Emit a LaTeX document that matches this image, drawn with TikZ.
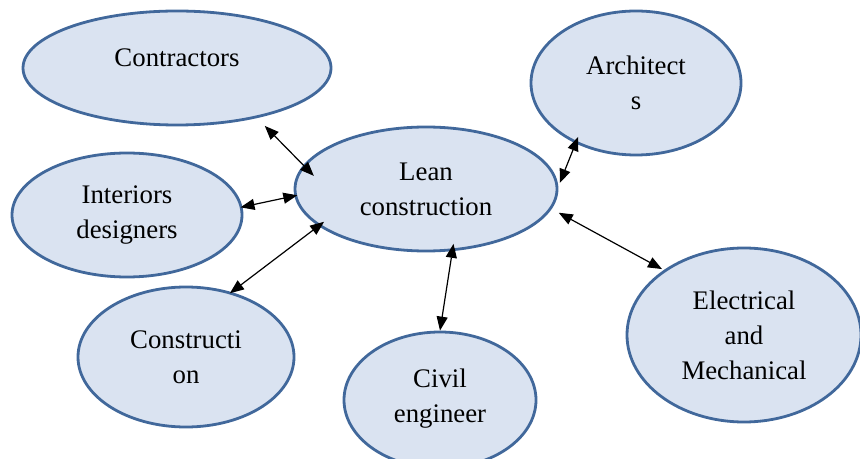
\documentclass[tikz,border=0pt]{standalone}
\usepackage{fontspec}
\setmainfont{Liberation Serif}
\usetikzlibrary{shapes.geometric,arrows.meta}
\definecolor{bubblefill}{HTML}{DAE3F1}
\definecolor{bubbleline}{HTML}{41689B}
\tikzset{
  bubble/.style={ellipse, draw=bubbleline, fill=bubblefill, line width=1.4pt, inner sep=0pt, align=center, font=\fontsize{13.4}{17.5}\selectfont},
  link/.style={{Triangle[length=7pt,width=5.5pt]}-{Triangle[length=7pt,width=5.5pt]}, line width=0.6pt}
}
\begin{document}
\begin{tikzpicture}[x=0.5pt,y=-0.5pt]
            \useasboundingbox (0,0) rectangle (860,459);
            \clip (0,0) rectangle (860,459);
            \node [bubble, minimum width=154pt, minimum height=57pt, text depth=10pt] (contr) at (177,68) {Contractors};
            \node [bubble, minimum width=105pt, minimum height=72pt] (arch) at (636,83) {Architect\\s};
            \node [bubble, minimum width=131pt, minimum height=62pt] (lean) at (426,189) {Lean\\construction};
            \node [bubble, minimum width=115pt, minimum height=62pt] (inter) at (127,215) {Interiors\\designers};
            \node [bubble, minimum width=108pt, minimum height=70pt] (constr) at (186,357) {Constructi\\on};
            \node [bubble, minimum width=96pt, minimum height=68pt, text depth=4pt] (civil) at (440,400) {Civil\\engineer};
            \node [bubble, minimum width=117pt, minimum height=87pt] (elec) at (744,335) {Electrical\\and\\Mechanical};
            \draw [link, shorten <=5.5pt, shorten >=-7.5pt] (contr.-32) -- (lean.169);
            \draw [link, shorten <=-1pt, shorten >=-1.5pt] (inter.4) -- (lean.183);
            \draw [link, shorten <=-1pt, shorten >=-3.5pt] (constr.55) -- (lean.199);
            \draw [link, shorten <=0pt, shorten >=-3.7pt] (civil.90) -- (lean.-67);
            \draw [link, shorten <=-3.5pt, shorten >=2pt] (arch.-135) -- (lean.1);
            \draw [link, shorten <=1pt, shorten >=4pt] (elec.141) -- (lean.-9.5);
\end{tikzpicture}
\end{document}
